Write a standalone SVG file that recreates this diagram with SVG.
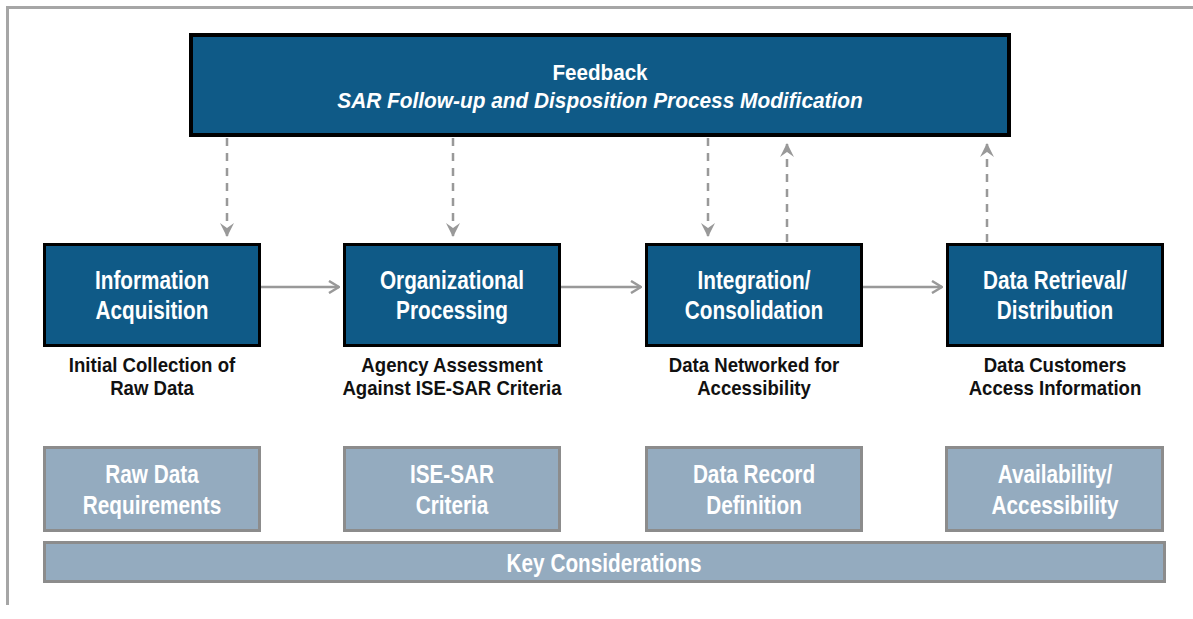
<svg xmlns="http://www.w3.org/2000/svg" width="1193" height="619" viewBox="0 0 1193 619">
<defs>
<style>
.dark{fill:#0f5a87;stroke:#000;stroke-width:3}
.light{fill:#94abbf;stroke:#8c8c8c;stroke-width:3}
.t{font-family:"Liberation Sans",Arial,sans-serif;font-weight:bold;font-size:25px;fill:#fff;text-anchor:middle}
.s{font-family:"Liberation Sans",Arial,sans-serif;font-weight:bold;font-size:19.8px;fill:#111;text-anchor:middle}
.f{font-family:"Liberation Sans",Arial,sans-serif;font-weight:bold;font-size:21.5px;fill:#fff;text-anchor:middle}
.dash{stroke:#999;stroke-width:2.5;fill:none;stroke-dasharray:8 7}
.solid{stroke:#999;stroke-width:2.5;fill:none}
</style>
<marker id="ah" viewBox="0 0 14 14" refX="14" refY="7" markerWidth="14" markerHeight="14" markerUnits="userSpaceOnUse" orient="auto">
<path d="M0,0 L14,7 L0,14 L5,7 Z" fill="#999"/>
</marker>
<marker id="oh" viewBox="0 0 12 14" refX="11" refY="7" markerWidth="12" markerHeight="14" markerUnits="userSpaceOnUse" orient="auto">
<path d="M1,1 L11,7 L1,13" fill="none" stroke="#999" stroke-width="2.5"/>
</marker>
</defs>
<rect width="1193" height="619" fill="#fff"/>
<g id="frame">
<path d="M7.5,605 L7.5,7.5 L1193,7.5" fill="none" stroke="#a6a6a6" stroke-width="3"/>
</g>
<g id="connectors">
<line class="dash" x1="227" y1="138" x2="227" y2="237" marker-end="url(#ah)"/>
<line class="dash" x1="453" y1="138" x2="453" y2="237" marker-end="url(#ah)"/>
<line class="dash" x1="708" y1="138" x2="708" y2="237" marker-end="url(#ah)"/>
<line class="dash" x1="787" y1="242" x2="787" y2="143" marker-end="url(#ah)"/>
<line class="dash" x1="987" y1="242" x2="987" y2="143" marker-end="url(#ah)"/>
<line class="solid" x1="261" y1="287" x2="339" y2="287" marker-end="url(#oh)"/>
<line class="solid" x1="561" y1="287" x2="641" y2="287" marker-end="url(#oh)"/>
<line class="solid" x1="863" y1="287" x2="942" y2="287" marker-end="url(#oh)"/>
</g>
<g id="feedback">
<rect x="191" y="35" width="818" height="100" fill="#0f5a87" stroke="#000" stroke-width="4"/>
<text class="f" transform="translate(600,80) scale(0.96,1)">Feedback</text>
<text class="f" transform="translate(600,108) scale(0.97,1)" font-style="italic">SAR Follow-up and Disposition Process Modification</text>
</g>
<g id="info-acq">
<rect class="dark" x="44.5" y="244.5" width="215" height="101"/>
<text class="t" transform="translate(152,289) scale(0.83,1)">Information</text>
<text class="t" transform="translate(152,319) scale(0.83,1)">Acquisition</text>
<text class="s" transform="translate(152,371.5) scale(0.94,1)">Initial Collection of</text>
<text class="s" transform="translate(152,395) scale(0.94,1)">Raw Data</text>
</g>
<g id="org-proc">
<rect class="dark" x="344.5" y="244.5" width="215" height="101"/>
<text class="t" transform="translate(452,289) scale(0.83,1)">Organizational</text>
<text class="t" transform="translate(452,319) scale(0.83,1)">Processing</text>
<text class="s" transform="translate(452,371.5) scale(0.94,1)">Agency Assessment</text>
<text class="s" transform="translate(452,395) scale(0.94,1)">Against ISE-SAR Criteria</text>
</g>
<g id="integration">
<rect class="dark" x="646.5" y="244.5" width="215" height="101"/>
<text class="t" transform="translate(754,289) scale(0.83,1)">Integration/</text>
<text class="t" transform="translate(754,319) scale(0.83,1)">Consolidation</text>
<text class="s" transform="translate(754,371.5) scale(0.94,1)">Data Networked for</text>
<text class="s" transform="translate(754,395) scale(0.94,1)">Accessibility</text>
</g>
<g id="retrieval">
<rect class="dark" x="947.5" y="244.5" width="215" height="101"/>
<text class="t" transform="translate(1055,289) scale(0.83,1)">Data Retrieval/</text>
<text class="t" transform="translate(1055,319) scale(0.83,1)">Distribution</text>
<text class="s" transform="translate(1055,371.5) scale(0.94,1)">Data Customers</text>
<text class="s" transform="translate(1055,395) scale(0.94,1)">Access Information</text>
</g>
<g id="raw-req">
<rect class="light" x="44.5" y="447.5" width="215" height="83"/>
<text class="t" transform="translate(152,483) scale(0.83,1)">Raw Data</text>
<text class="t" transform="translate(152,514) scale(0.83,1)">Requirements</text>
</g>
<g id="ise-criteria">
<rect class="light" x="344.5" y="447.5" width="215" height="83"/>
<text class="t" transform="translate(452,483) scale(0.83,1)">ISE-SAR</text>
<text class="t" transform="translate(452,514) scale(0.83,1)">Criteria</text>
</g>
<g id="record-def">
<rect class="light" x="646.5" y="447.5" width="215" height="83"/>
<text class="t" transform="translate(754,483) scale(0.83,1)">Data Record</text>
<text class="t" transform="translate(754,514) scale(0.83,1)">Definition</text>
</g>
<g id="availability">
<rect class="light" x="946.5" y="447.5" width="216" height="83"/>
<text class="t" transform="translate(1055,483) scale(0.83,1)">Availability/</text>
<text class="t" transform="translate(1055,514) scale(0.83,1)">Accessibility</text>
</g>
<g id="key-considerations">
<rect class="light" x="44.5" y="542.5" width="1120" height="39"/>
<text class="t" transform="translate(604,571.5) scale(0.83,1)">Key Considerations</text>
</g>
</svg>
